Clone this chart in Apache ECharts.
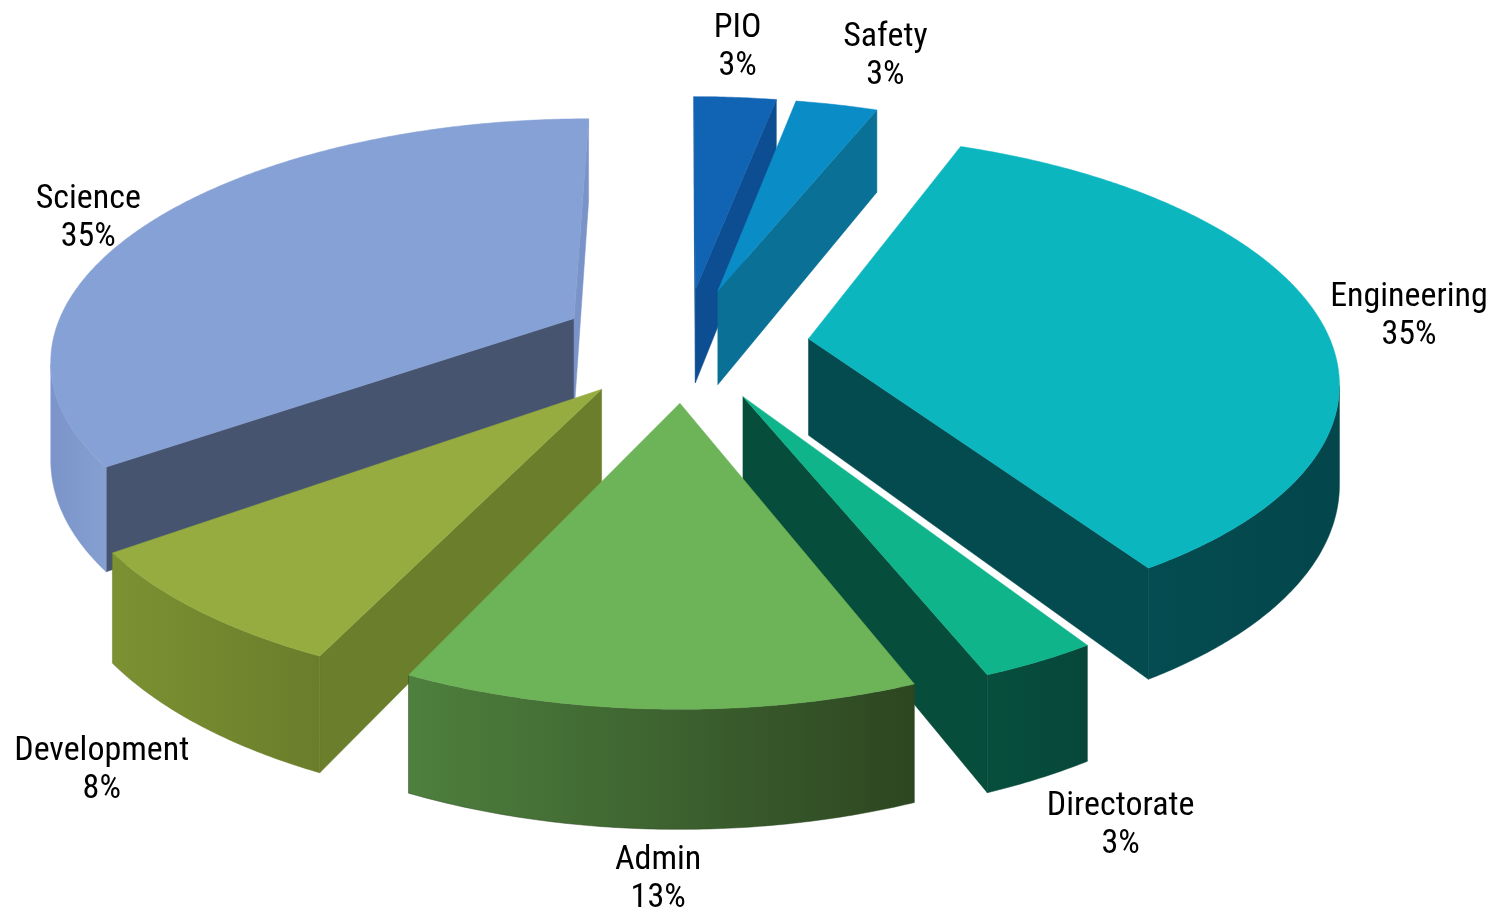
<!DOCTYPE html>
<html><head><meta charset="utf-8">
<script src="https://cdn.jsdelivr.net/npm/echarts@6/dist/echarts.min.js"></script>
<style>html,body{margin:0;padding:0;background:#fff}#chart{width:1508px;height:911px}</style>
</head><body><div id="chart"></div>
<script>
// ---- data ----
const categories = ['PIO', 'Safety', 'Engineering', 'Directorate', 'Admin', 'Development', 'Science'];
const values = [3, 3, 35, 3, 13, 8, 35];
// ---- styles ----
const topColors = ['#1163b3', '#0a8cc6', '#0bb6bf', '#0fb48a', '#6db358', '#96ac40', '#86a1d5'];
const wallColors = [['#0c4f93', '#0b4a8a'], ['#087398', '#066a8e'], ['#044c51', '#03464b'], ['#074f3c', '#06473a'], ['#4e803e', '#2d4621'], ['#7c9132', '#6a7d2b'], ['#7b94c9', '#86a0d2']];
const faceColors = [['#0c4e91', '#0c4e91'], ['#0a7096', '#0a7096'], ['#044b50', '#044b50'], ['#074d3b', '#074d3b'], ['#3f6a31', '#3f6a31'], ['#6b7e2c', '#6b7e2c'], ['#46546f', '#7a93c8']];

const CX = 684, CY = 344, RX = 523, RY = 238, P = 0.155, H = 97, EXPLODE = 0.24;
const FONT = '"Liberation Sans Narrow", "Roboto Condensed", "DejaVu Sans Condensed", Roboto, "Noto Sans", sans-serif';
const FONT_SIZE = 34, LINE_H = 38;

const measureCtx = document.createElement('canvas').getContext('2d');
measureCtx.font = FONT_SIZE + 'px ' + FONT;
function textWidth(s) { return Math.max(...s.split('\n').map(l => measureCtx.measureText(l).width)); }

const total = values.reduce((a, b) => a + b, 0);
const angles = [];
{ let c = 0; values.forEach(v => { angles.push([c / total * 2 * Math.PI, (c + v) / total * 2 * Math.PI]); c += v; }); }
const depthRank = (() => {
  const d = angles.map((a, i) => ({ i, v: -Math.cos((a[0] + a[1]) / 2) }));
  d.sort((a, b) => a.v - b.v);
  const r = []; d.forEach((o, k) => r[o.i] = k); return r;
})();

function proj(U, V, h) {
  const f = 1 / (1 - P * V);
  return [CX + RX * U * f, CY + (RY * V + H * h) * f];
}

function renderItem(params, api) {
  const i = params.dataIndex;
  const v = api.value(0);
  const a0 = angles[i][0], a1 = a0 + v / total * 2 * Math.PI;
  const am = (a0 + a1) / 2;
  const ou = EXPLODE * Math.sin(am), ov = -EXPLODE * Math.cos(am);
  const pt = (th, r, h) => proj(ou + r * Math.sin(th), ov - r * Math.cos(th), h);
  const visible = (pu, pv, nu, nv) => (-pu) * nu + (1 / P - pv) * nv > 0;
  const base = depthRank[i] * 10;
  const children = [];
  const n = Math.max(8, Math.ceil((a1 - a0) / (Math.PI / 360)));
  const ths = [];
  for (let k = 0; k <= n; k++) ths.push(a0 + (a1 - a0) * k / n);

  // radial faces
  const faces = [
    { a: a0, nu: -Math.cos(a0), nv: -Math.sin(a0), c: faceColors[i][0] },
    { a: a1, nu: Math.cos(a1), nv: Math.sin(a1), c: faceColors[i][1] }
  ];
  faces.forEach(fc => {
    if (visible(ou, ov, fc.nu, fc.nv)) {
      children.push({
        type: 'polygon', z2: base + 1,
        shape: { points: [pt(fc.a, 0, 0), pt(fc.a, 1, 0), pt(fc.a, 1, 1), pt(fc.a, 0, 1)] },
        style: { fill: fc.c, stroke: fc.c, lineWidth: 0.5 }
      });
    }
  });
  // outer wall
  const vis = ths.map(t => visible(ou + Math.sin(t), ov - Math.cos(t), Math.sin(t), -Math.cos(t)));
  const first = vis.indexOf(true), last = vis.lastIndexOf(true);
  if (first >= 0) {
    const pts = [];
    for (let k = first; k <= last; k++) pts.push(pt(ths[k], 1, 0));
    for (let k = last; k >= first; k--) pts.push(pt(ths[k], 1, 1));
    children.push({
      type: 'polygon', z2: base + 2,
      shape: { points: pts },
      style: {
        fill: { type: 'linear', x: 0, y: 0, x2: 1, y2: 0, colorStops: [{ offset: 0, color: wallColors[i][0] }, { offset: 1, color: wallColors[i][1] }] },
        stroke: wallColors[i][1], lineWidth: 0.5
      }
    });
  }
  // top
  const topPts = [pt(a0, 0, 0)];
  ths.forEach(t => topPts.push(pt(t, 1, 0)));
  children.push({
    type: 'polygon', z2: base + 3,
    shape: { points: topPts },
    style: { fill: topColors[i], stroke: topColors[i], lineWidth: 0.5 }
  });
  // label (lines centred on each other, block placed outside the slice)
  const front = -Math.cos(am) > 0;
  const anc = pt(am, 1, front ? 1 : 0);
  let dx = anc[0] - CX, dy = anc[1] - CY;
  const len = Math.hypot(dx, dy); dx /= len; dy /= len;
  const dist = 12;
  const txt = categories[i] + '\n' + Math.round(v / total * 100) + '%';
  const w = textWidth(txt);
  let x = anc[0] + dx * dist, y = anc[1] + dy * dist;
  if (dx > 0.5) x += w / 2; else if (dx < -0.5) x -= w / 2;
  children.push({
    type: 'text', z2: 200,
    style: {
      text: txt, x, y,
      align: 'center',
      verticalAlign: dy > 0.5 ? 'top' : (dy < -0.5 ? 'bottom' : 'middle'),
      fill: '#000', fontSize: FONT_SIZE, fontFamily: FONT, lineHeight: LINE_H
    }
  });
  return { type: 'group', children };
}

const chart = echarts.init(document.getElementById('chart'), null, { renderer: 'canvas' });
chart.setOption({
  backgroundColor: '#ffffff',
  animation: false,
  series: [{
    type: 'custom',
    coordinateSystem: 'none',
    renderItem,
    data: values.map((v, i) => ({ name: categories[i], value: [v] }))
  }]
});
</script></body></html>
